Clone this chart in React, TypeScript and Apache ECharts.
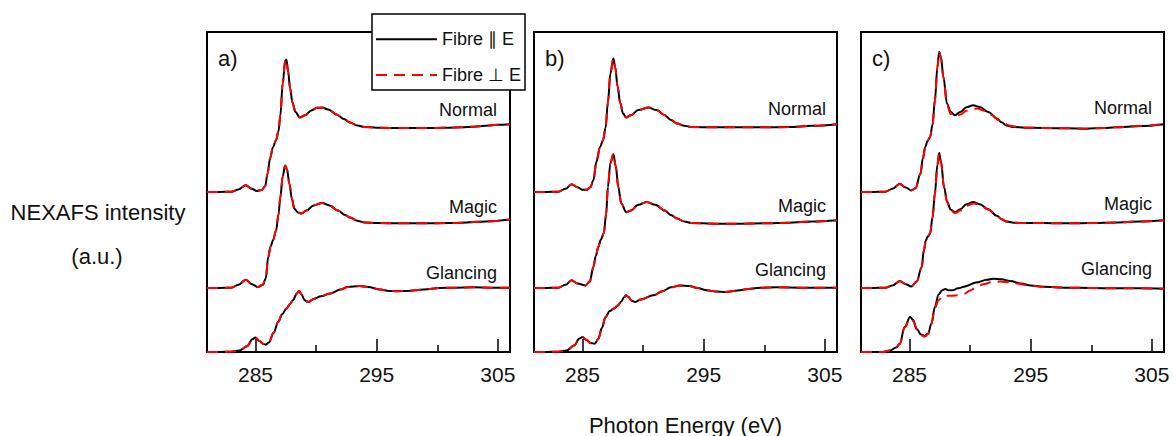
import React, { useEffect, useRef } from "react";
import * as echarts from "echarts";

// Photon energy range of every panel (eV)
const E_MIN = 281;
const E_MAX = 306;
const MAJOR_TICKS = [285, 295, 305];
const MINOR_TICKS = [290, 300];

// Vertical offsets of the stacked spectra
const OFFSET_NORMAL = 5;
const OFFSET_MAGIC = 2;
const OFFSET_GLANCING = 0;

const PANEL_LABELS = ["a)", "b)", "c)"];
const GEOMETRY_LABELS = ["Normal", "Magic", "Glancing"];
const SERIES_PAR = "Fibre \u2225 E";
const SERIES_PERP = "Fibre \u22A5 E";

// ---- panel a) ----  [photon energy, normalised intensity]
const aNormal = [
  [281, 0], [282, 0], [283, 0.01], [283.6, 0.08], [284.2, 0.21], [284.7, 0.1], [285.1, 0.03],
  [285.5, 0.06], [285.8, 0.18], [286.0, 0.58], [286.2, 1.05], [286.45, 1.41], [286.7, 1.62],
  [286.9, 1.9], [287.05, 2.4], [287.25, 3.4], [287.45, 4.1], [287.55, 4.14], [287.7, 3.75],
  [287.85, 3.25], [288.05, 2.8], [288.3, 2.5], [288.65, 2.33], [289.1, 2.4], [289.6, 2.55],
  [290.1, 2.63], [290.5, 2.64], [291.0, 2.58], [291.7, 2.42], [292.3, 2.28], [292.8, 2.17],
  [293.4, 2.08], [294, 2.03], [295, 2.01], [296, 2.0], [298, 2.0], [300, 2.0], [301, 2.01],
  [302, 2.02], [303, 2.04], [304, 2.07], [305, 2.1], [306, 2.12],
];
const aMagic = [
  [281, 0], [282, 0], [283, 0.01], [283.6, 0.1], [284.2, 0.26], [284.7, 0.12], [285.2, 0.03],
  [285.6, 0.1], [285.85, 0.3], [286.05, 0.97], [286.25, 1.3], [286.45, 1.49], [286.7, 1.8],
  [286.9, 2.3], [287.05, 2.84], [287.25, 3.5], [287.45, 3.83], [287.6, 3.7], [287.8, 3.26],
  [288.0, 2.8], [288.2, 2.48], [288.5, 2.36], [288.8, 2.33], [289.2, 2.42], [289.8, 2.58],
  [290.5, 2.66], [291.1, 2.58], [291.8, 2.42], [292.4, 2.28], [292.8, 2.2], [293.4, 2.1],
  [294, 2.05], [295, 2.03], [297, 2.02], [299, 2.02], [301, 2.03], [302, 2.04], [304, 2.08],
  [306, 2.14],
];
const aGlancing = [
  [281, 0], [282, 0], [283, 0.01], [283.7, 0.05], [284.3, 0.18], [284.75, 0.4], [285.0, 0.45],
  [285.3, 0.35], [285.6, 0.26], [285.85, 0.23], [286.1, 0.3], [286.5, 0.6], [286.87, 0.94],
  [287.2, 1.18], [287.56, 1.36], [287.85, 1.5], [288.1, 1.62], [288.4, 1.82], [288.6, 1.91],
  [288.8, 1.8], [289.05, 1.62], [289.35, 1.56], [289.8, 1.66], [290.4, 1.74], [291.15, 1.83],
  [292.0, 1.95], [292.6, 2.03], [293.1, 2.05], [293.6, 2.06], [294.3, 2.03], [295.3, 1.95],
  [296, 1.91], [296.65, 1.9], [297.5, 1.91], [298.9, 1.95], [300.2, 2.0], [301.5, 2.01],
  [303, 2.02], [304.5, 2.01], [306, 2.01],
];
const aNormalPerp = aNormal;
const aMagicPerp = aMagic;
const aGlancingPerp = aGlancing;

// ---- panel b) ----
const bNormal = [
  [281, 0], [282, 0], [283, 0.01], [283.6, 0.1], [284.1, 0.24], [284.6, 0.15], [285.0, 0.07],
  [285.35, 0.07], [285.65, 0.15], [285.9, 0.37], [286.15, 0.95], [286.45, 1.41], [286.7, 1.62],
  [286.9, 2.0], [287.1, 2.8], [287.3, 3.7], [287.55, 4.17], [287.7, 3.9], [287.9, 3.3],
  [288.1, 2.8], [288.35, 2.45], [288.6, 2.33], [289.0, 2.4], [289.6, 2.56], [290.45, 2.64],
  [291.1, 2.56], [291.8, 2.4], [292.3, 2.25], [292.8, 2.14], [293.4, 2.07], [294, 2.03],
  [296, 2.02], [298, 2.02], [300, 2.02], [302, 2.03], [304, 2.07], [306, 2.12],
];
const bMagic = [
  [281, 0], [282, 0], [283, 0.01], [283.6, 0.1], [284.1, 0.24], [284.6, 0.14], [285.25, 0.08],
  [285.6, 0.2], [285.9, 0.66], [286.1, 1.0], [286.3, 1.28], [286.5, 1.5], [286.75, 1.7],
  [286.95, 2.3], [287.1, 3.16], [287.3, 3.9], [287.55, 4.18], [287.75, 3.8], [287.95, 3.16],
  [288.2, 2.65], [288.6, 2.37], [289.0, 2.42], [289.6, 2.6], [290.3, 2.69], [291.0, 2.6],
  [291.8, 2.42], [292.3, 2.28], [292.8, 2.17], [293.4, 2.08], [294, 2.03], [296, 2.01],
  [298, 2.01], [300, 2.02], [302, 2.04], [304, 2.08], [306, 2.12],
];
const bGlancing = [
  [281, 0], [282, 0], [283, 0.01], [283.7, 0.05], [284.3, 0.2], [284.75, 0.42], [285.0, 0.47],
  [285.3, 0.38], [285.7, 0.28], [286.0, 0.26], [286.3, 0.4], [286.6, 0.75], [286.9, 1.09],
  [287.25, 1.28], [287.6, 1.36], [287.9, 1.45], [288.2, 1.58], [288.45, 1.72], [288.6, 1.77],
  [288.8, 1.72], [289.05, 1.6], [289.35, 1.56], [289.8, 1.64], [290.85, 1.77], [291.6, 1.9],
  [292.3, 2.02], [293.05, 2.08], [293.8, 2.06], [294.5, 2.0], [295.25, 1.93], [296, 1.89],
  [296.8, 1.875], [297.8, 1.92], [298.7, 1.97], [299.7, 2.01], [301, 2.02], [303, 2.01],
  [305, 2.01], [306, 2.01],
];
const bNormalPerp = bNormal;
const bMagicPerp = bMagic;
const bGlancingPerp = bGlancing;

// ---- panel c) ----
const cNormal = [
  [281, 0], [282, 0], [283, 0.01], [283.6, 0.1], [284.2, 0.26], [284.7, 0.14], [285.15, 0.05],
  [285.5, 0.12], [285.9, 0.57], [286.1, 1.05], [286.3, 1.41], [286.5, 1.6], [286.7, 1.72],
  [286.9, 2.1], [287.1, 2.87], [287.3, 3.9], [287.45, 4.38], [287.6, 4.2], [287.8, 3.59],
  [288.1, 2.76], [288.4, 2.5], [288.75, 2.4], [289.2, 2.5], [289.7, 2.65], [290.25, 2.71],
  [290.8, 2.66], [291.5, 2.5], [292.2, 2.3], [292.6, 2.18], [293.0, 2.08], [293.6, 2.03],
  [294.5, 2.01], [296, 2.0], [298, 1.99], [299.6, 1.98], [301, 2.0], [302, 2.02], [304, 2.06],
  [306, 2.12],
];
const cNormalPerp = [
  [281, 0], [282, 0], [283, 0.01], [283.6, 0.1], [284.2, 0.25], [284.7, 0.13], [285.15, 0.05],
  [285.5, 0.12], [285.9, 0.55], [286.1, 1.02], [286.3, 1.4], [286.5, 1.6], [286.7, 1.72],
  [286.9, 2.1], [287.1, 2.87], [287.3, 3.88], [287.45, 4.36], [287.6, 4.18], [287.8, 3.58],
  [288.1, 2.72], [288.4, 2.44], [288.75, 2.35], [289.2, 2.42], [289.7, 2.54], [290.3, 2.6],
  [290.6, 2.61], [291.2, 2.54], [291.8, 2.4], [292.4, 2.24], [292.8, 2.14], [293.4, 2.06],
  [294.2, 2.02], [296, 2.0], [298, 1.99], [299.6, 1.98], [301, 2.0], [302, 2.02], [304, 2.06],
  [306, 2.12],
];
const cMagic = [
  [281, 0], [282, 0], [283, 0.01], [283.6, 0.08], [284.2, 0.22], [284.7, 0.12], [285.15, 0.05],
  [285.6, 0.2], [286.0, 0.65], [286.2, 1.2], [286.35, 1.49], [286.5, 1.6], [286.7, 1.7],
  [286.9, 2.2], [287.1, 2.95], [287.3, 3.85], [287.45, 4.22], [287.6, 3.95], [287.85, 3.16],
  [288.1, 2.7], [288.4, 2.45], [288.75, 2.37], [289.2, 2.46], [289.7, 2.62], [290.25, 2.69],
  [290.8, 2.62], [291.5, 2.46], [292.2, 2.26], [292.6, 2.15], [293.0, 2.08], [293.6, 2.04],
  [294.5, 2.03], [296, 2.03], [298, 2.02], [300, 2.03], [302, 2.05], [304, 2.08], [306, 2.12],
];
const cMagicPerp = [
  [281, 0], [282, 0], [283, 0.01], [283.6, 0.08], [284.2, 0.21], [284.7, 0.12], [285.15, 0.05],
  [285.6, 0.2], [286.0, 0.63], [286.2, 1.18], [286.35, 1.48], [286.5, 1.6], [286.7, 1.7],
  [286.9, 2.2], [287.1, 2.95], [287.3, 3.83], [287.45, 4.2], [287.6, 3.93], [287.85, 3.14],
  [288.1, 2.68], [288.4, 2.42], [288.75, 2.34], [289.2, 2.42], [289.7, 2.57], [290.3, 2.64],
  [290.8, 2.6], [291.5, 2.45], [292.2, 2.26], [292.6, 2.15], [293.0, 2.08], [293.6, 2.04],
  [294.5, 2.03], [296, 2.03], [298, 2.02], [300, 2.03], [302, 2.05], [304, 2.08], [306, 2.12],
];
const cGlancing = [
  [281, 0], [282, 0], [282.8, 0.0], [283.4, 0.05], [283.9, 0.14], [284.2, 0.26], [284.6, 0.78],
  [285.05, 1.09], [285.3, 1.0], [285.6, 0.72], [285.95, 0.55], [286.25, 0.5], [286.55, 0.58],
  [286.8, 0.88], [287.1, 1.41], [287.4, 1.8], [287.7, 1.93], [287.95, 1.97], [288.2, 1.93],
  [288.55, 1.93], [289.0, 1.99], [289.6, 2.05], [290.5, 2.17], [291.4, 2.26], [291.9, 2.29],
  [292.6, 2.27], [293.3, 2.22], [294.2, 2.14], [295, 2.08], [296, 2.04], [298, 2.01],
  [300, 2.0], [302, 1.99], [304, 1.99], [306, 1.98],
];
const cGlancingPerp = [
  [281, 0], [282, 0], [282.8, 0.0], [283.4, 0.05], [283.9, 0.14], [284.2, 0.25], [284.6, 0.76],
  [285.05, 1.05], [285.3, 0.97], [285.6, 0.7], [285.95, 0.53], [286.25, 0.48], [286.55, 0.56],
  [286.8, 0.86], [287.1, 1.38], [287.4, 1.62], [287.7, 1.74], [288.0, 1.76], [288.5, 1.76],
  [289.0, 1.77], [289.5, 1.82], [290.0, 1.92], [290.5, 2.02], [291.1, 2.12], [291.8, 2.18],
  [292.5, 2.2], [293.2, 2.18], [293.9, 2.14], [294.6, 2.1], [295.3, 2.06], [296, 2.04],
  [298, 2.01], [300, 2.0], [302, 1.99], [304, 1.99], [306, 1.98],
];

const PANELS = [
  {
    par: [aNormal, aMagic, aGlancing],
    perp: [aNormalPerp, aMagicPerp, aGlancingPerp],
  },
  {
    par: [bNormal, bMagic, bGlancing],
    perp: [bNormalPerp, bMagicPerp, bGlancingPerp],
  },
  {
    par: [cNormal, cMagic, cGlancing],
    perp: [cNormalPerp, cMagicPerp, cGlancingPerp],
  },
];
const OFFSETS = [OFFSET_NORMAL, OFFSET_MAGIC, OFFSET_GLANCING];

// Layout (pixels)
const FONT = "'Liberation Sans', Arial, Helvetica, sans-serif";
const GRID_LEFTS = [207, 534, 861];
const GRID_TOP = 32;
const GRID_W = 303;
const GRID_H = 320;
const GEOM_LABEL_Y = [
  [110, 207, 272.5],
  [108.5, 205.5, 270],
  [107.5, 204, 268.5],
];
const GEOM_LABEL_INSET = [13, 11, 12];

function App() {
  const ref = useRef<HTMLDivElement>(null);

  useEffect(() => {
    if (!ref.current) return;
    const chart = echarts.init(ref.current, null, { renderer: "svg" });

    const grid: any[] = [];
    const xAxis: any[] = [];
    const yAxis: any[] = [];
    const series: any[] = [];
    const graphic: any[] = [];

    PANELS.forEach((panel, i) => {
      const left = GRID_LEFTS[i];
      grid.push({
        left,
        top: GRID_TOP,
        width: GRID_W,
        height: GRID_H,
        show: true,
        borderColor: "#000",
        borderWidth: 2,
        backgroundColor: "transparent",
      });
      // main axis: labels and long ticks
      xAxis.push({
        type: "value",
        gridIndex: i,
        min: E_MIN,
        max: E_MAX,
        axisLine: { show: false },
        splitLine: { show: false },
        axisTick: {
          show: true,
          inside: true,
          length: 13,
          customValues: MAJOR_TICKS,
          lineStyle: { color: "#000", width: 1.5 },
        },
        axisLabel: {
          show: true,
          customValues: MAJOR_TICKS,
          margin: 12,
          fontSize: 21,
          fontFamily: FONT,
          color: "#111",
        },
      });
      // minor ticks
      xAxis.push({
        type: "value",
        gridIndex: i,
        min: E_MIN,
        max: E_MAX,
        position: "bottom",
        axisLine: { show: false },
        splitLine: { show: false },
        axisLabel: { show: false },
        axisTick: {
          show: true,
          inside: true,
          length: 7,
          customValues: MINOR_TICKS,
          lineStyle: { color: "#000", width: 1.5 },
        },
      });
      yAxis.push({
        type: "value",
        gridIndex: i,
        min: 0,
        max: 10,
        show: false,
        splitLine: { show: false },
      });

      [panel.par, panel.perp].forEach((set, k) => {
        set.forEach((pts, g) => {
          series.push({
            type: "line",
            name: k === 0 ? SERIES_PAR : SERIES_PERP,
            xAxisIndex: i * 2,
            yAxisIndex: i,
            data: pts.map(([e, v]) => [e, v + OFFSETS[g]]),
            symbol: "none",
            smooth: 0.35,
            smoothMonotone: "x",
            lineStyle:
              k === 0
                ? { color: "#000", width: 2 }
                : { color: "#ff0000", width: 2, type: [11, 7] },
            itemStyle: { color: k === 0 ? "#000" : "#ff0000" },
            z: k === 0 ? 2 : 3,
          });
        });
      });

      graphic.push({
        type: "text",
        left: left + 11,
        top: 47,
        style: { text: PANEL_LABELS[i], fontSize: 22, fontFamily: FONT, fill: "#111" },
      });
      GEOMETRY_LABELS.forEach((label, g) => {
        graphic.push({
          type: "text",
          x: left + GRID_W - GEOM_LABEL_INSET[i],
          y: GEOM_LABEL_Y[i][g],
          style: {
            text: label,
            fontSize: 18,
            fontFamily: FONT,
            fill: "#111",
            align: "right",
            verticalAlign: "middle",
          },
          z: 5,
        });
      });
    });

    graphic.push(
      {
        type: "text",
        x: 98,
        y: 212,
        style: {
          text: "NEXAFS intensity",
          fontSize: 22,
          fontFamily: FONT,
          fill: "#111",
          align: "center",
          verticalAlign: "middle",
        },
      },
      {
        type: "text",
        x: 97,
        y: 256,
        style: {
          text: "(a.u.)",
          fontSize: 22,
          fontFamily: FONT,
          fill: "#111",
          align: "center",
          verticalAlign: "middle",
        },
      },
      {
        type: "text",
        x: 685.5,
        y: 425,
        style: {
          text: "Photon Energy (eV)",
          fontSize: 22,
          fontFamily: FONT,
          fill: "#111",
          align: "center",
          verticalAlign: "middle",
        },
      }
    );

    chart.setOption({
      animation: false,
      backgroundColor: "#fff",
      grid,
      xAxis,
      yAxis,
      series,
      graphic,
      legend: {
        orient: "vertical",
        left: 372,
        top: 14,
        data: [SERIES_PAR, SERIES_PERP],
        itemWidth: 61,
        itemHeight: 14,
        itemGap: 17.7,
        padding: [16.3, 4, 6, 3],
        backgroundColor: "#fff",
        borderColor: "#000",
        borderWidth: 1.5,
        selectedMode: false,
        z: 10,
        // only the line sample, no marker
        itemStyle: { color: "transparent", borderWidth: 0, opacity: 0 },
        textStyle: { fontSize: 18, fontFamily: FONT, color: "#111" },
      },
    });

    return () => chart.dispose();
  }, []);

  return (
    <div
      ref={ref}
      style={{ position: "absolute", left: 0, top: 0, width: 1173, height: 436 }}
    />
  );
}

export default App;
